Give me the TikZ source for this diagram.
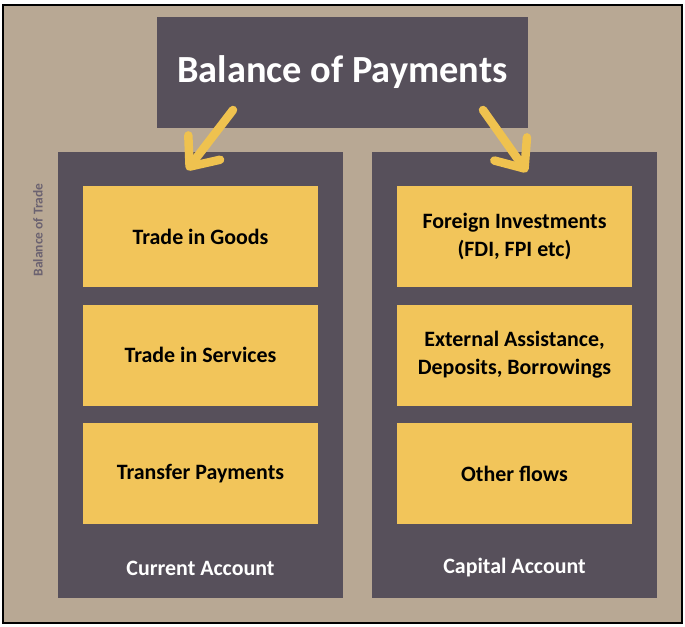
\documentclass[tikz,border=0pt]{standalone}
\usepackage{fontspec}
\setmainfont{Carlito}
\usetikzlibrary{arrows.meta}
\definecolor{tan}{HTML}{B8A894}
\definecolor{plum}{HTML}{57505B}
\definecolor{mustard}{HTML}{F2C55A}
\definecolor{arrowyellow}{HTML}{EFC24F}
\definecolor{fadetext}{HTML}{6B6270}
\begin{document}
\begin{tikzpicture}[x=1bp,y=-1bp]
			\useasboundingbox (0,0) rectangle (685,627);
			\fill[white] (0,0) rectangle (685,627);
			\draw[line width=2bp, fill=tan] (3,5) rectangle (682,623);
			\node[fill=plum, minimum width=371bp, minimum height=111bp, inner sep=0pt, text=white, font=\bfseries\fontsize{38.5}{40}\selectfont] (bop) at (342.5,72.5) {Balance of Payments};
			\begin{scope}[every node/.style={fill=plum, minimum width=285bp, minimum height=446bp, inner sep=0pt}]
				\node (current) at (200.5,375) {};
				\node (capital) at (514.5,375) {};
			\end{scope}
			\begin{scope}[every node/.style={fill=mustard, minimum width=235bp, minimum height=101bp, inner sep=0pt, align=center, font=\bfseries\fontsize{22}{28}\selectfont}]
				\node (goods) at (200.5,236.5) {Trade in Goods};
				\node (services) at (200.5,355) {Trade in Services};
				\node (transfers) at (200.5,473.5) {Transfer Payments};
				\node (invest) at (514.5,236.5) {Foreign Investments\\(FDI, FPI etc)};
				\node (assist) at (514.5,355) {External Assistance,\\Deposits, Borrowings};
				\node (other) at (514.5,473.5) {Other flows};
			\end{scope}
			\begin{scope}[every node/.style={text=white, font=\bfseries\fontsize{22}{24}\selectfont}]
				\node (currentlabel) at (200.5,568) {Current Account};
				\node (capitallabel) at (514.5,568) {Capital Account};
			\end{scope}
			\node[rotate=90, text=fadetext, font=\bfseries\fontsize{13.5}{15}\selectfont] (trade) at (38,230) {Balance of Trade};
			\coordinate (lfrom) at (233,110);
			\coordinate (lto) at (187,170);
			\coordinate (rfrom) at (483,110);
			\coordinate (rto) at (527,172);
			\begin{scope}[every edge/.style={draw=arrowyellow, line width=8.5bp, line cap=round, -{Straight Barb[round, length=24bp, width=40bp]}}]
				\path (lfrom) edge (lto);
				\path (rfrom) edge (rto);
			\end{scope}
		\end{tikzpicture}
\end{document}
